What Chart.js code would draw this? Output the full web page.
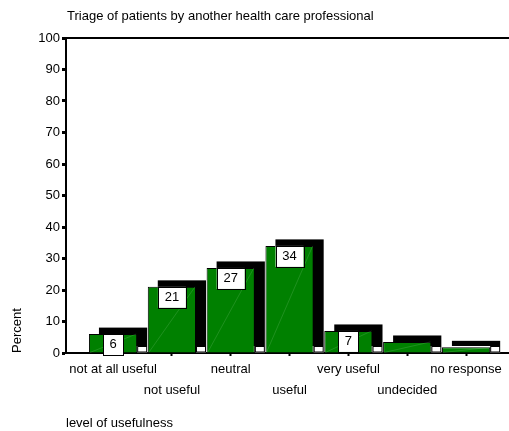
<!DOCTYPE html>
<html>
<head>
<meta charset="utf-8">
<script src="https://cdn.jsdelivr.net/npm/chart.js@4"></script>
<style>
  html, body { margin: 0; padding: 0; background: #fff; }
  #wrap { width: 509px; height: 431px; }
</style>
</head>
<body>
<div id="wrap"><canvas id="usefulness-chart" width="509" height="431"></canvas></div>
<script>
// level of usefulness categories and percentages
const categories = ['not at all useful', 'not useful', 'neutral', 'useful', 'very useful', 'undecided', 'no response'];
const percents = [6, 21, 27, 34, 7, 3.5, 1.8];
const valueLabels = ['6', '21', '27', '34', '7', null, null];
const yTicks = [0, 10, 20, 30, 40, 50, 60, 70, 80, 90, 100];

const FONT = 'Arial, "Liberation Sans", sans-serif';
const SHADOW_DX = 10;
const SHADOW_DY = 6.5;

// black drop block behind each bar
const shadowPlugin = {
    id: 'barShadow',
    beforeDatasetsDraw(chart) {
        const ctx = chart.ctx;
        const meta = chart.getDatasetMeta(0);
        ctx.save();
        meta.data.forEach(bar => {
            const p = bar.getProps(['x', 'y', 'base', 'width'], true);
            const left = p.x - p.width / 2;
            const right = p.x + p.width / 2;
            ctx.fillStyle = '#000';
            ctx.fillRect(left + SHADOW_DX, p.y - SHADOW_DY, p.width, p.base - p.y);
            // white gap under the block
            ctx.fillStyle = '#fff';
            ctx.fillRect(right, p.base - SHADOW_DY, SHADOW_DX, SHADOW_DY);
            ctx.strokeStyle = '#000';
            ctx.lineWidth = 1;
            ctx.strokeRect(right + 0.5, p.base - SHADOW_DY + 0.5, SHADOW_DX - 1, SHADOW_DY - 1);
        });
        ctx.restore();
    },
    afterDatasetsDraw(chart) {
        const ctx = chart.ctx;
        const meta = chart.getDatasetMeta(0);
        ctx.save();
        meta.data.forEach((bar, i) => {
            const p = bar.getProps(['x', 'y', 'base', 'width'], true);
            const left = p.x - p.width / 2;
            const right = p.x + p.width / 2;
            // faint diagonal across the bar face
            ctx.strokeStyle = 'rgba(140, 200, 140, 0.45)';
            ctx.lineWidth = 0.5;
            ctx.beginPath();
            ctx.moveTo(left + 1, p.base);
            ctx.lineTo(right - 1, p.y);
            ctx.stroke();

            const txt = valueLabels[i];
            if (txt === null) return;
            ctx.font = '13px ' + FONT;
            const w = txt.length > 1 ? 28 : 20;
            const h = 21;
            ctx.fillStyle = '#fff';
            ctx.fillRect(p.x - w / 2, p.y, w, h);
            ctx.strokeStyle = '#000';
            ctx.lineWidth = 1;
            ctx.strokeRect(Math.round(p.x - w / 2) + 0.5, Math.round(p.y) + 0.5, w, h);
            ctx.fillStyle = '#000';
            ctx.textAlign = 'center';
            ctx.textBaseline = 'middle';
            ctx.fillText(txt, p.x, p.y + h / 2);
        });
        ctx.restore();
    },
    afterDraw(chart) {
        const ctx = chart.ctx;
        const a = chart.chartArea;
        ctx.save();
        // frame line along the top
        ctx.strokeStyle = '#000';
        ctx.lineWidth = 2;
        ctx.beginPath();
        ctx.moveTo(a.left, a.top);
        ctx.lineTo(chart.width, a.top);
        ctx.stroke();
        // heading
        ctx.fillStyle = '#000';
        ctx.font = '13px ' + FONT;
        ctx.textAlign = 'left';
        ctx.textBaseline = 'middle';
        ctx.fillText('Triage of patients by another health care professional', 67, 16);
        ctx.restore();
    }
};

const ctx = document.getElementById('usefulness-chart').getContext('2d');
const chart = new Chart(ctx, {
    type: 'bar',
    data: {
        datasets: [{
            data: percents.map((v, i) => ({ x: i, y: v })),
            backgroundColor: '#008000',
            borderColor: '#000',
            borderWidth: 1,
            barPercentage: 0.82,
            categoryPercentage: 1
        }]
    },
    options: {
        responsive: false,
        animation: false,
        layout: { padding: { top: 38, left: 0, right: 0, bottom: 0 } },
        plugins: {
            legend: { display: false },
            tooltip: { enabled: false },
            title: { display: false }
        },
        scales: {
            x: {
                type: 'linear',
                min: -0.8,
                max: 6.73,
                offset: false,
                afterFit(scale) { scale.height = 78; },
                grid: { offset: false, drawOnChartArea: false, tickLength: 3, tickWidth: 2, tickColor: '#000' },
                border: { display: true, color: '#000', width: 2 },
                ticks: {
                    stepSize: 1,
                    includeBounds: false,
                    autoSkip: false,
                    maxRotation: 0,
                    color: '#000',
                    padding: 3,
                    font: { family: FONT, size: 13, lineHeight: 1.6 },
                    callback: v => {
                        const name = categories[v];
                        if (name === undefined) return '';
                        return v % 2 === 0 ? [name, ''] : ['', name];
                    }
                },
                title: {
                    display: true,
                    text: 'level of usefulness',
                    align: 'start',
                    color: '#000',
                    font: { family: FONT, size: 13 },
                    padding: { top: 0, bottom: 0 }
                }
            },
            y: {
                min: 0,
                max: 100,
                afterFit(scale) { scale.width = 66; },
                afterBuildTicks(scale) { scale.ticks = yTicks.map(v => ({ value: v })); },
                grid: { drawOnChartArea: false, tickLength: 4, tickWidth: 3, tickColor: '#000' },
                border: { display: true, color: '#000', width: 2 },
                ticks: {
                    color: '#000',
                    padding: 2,
                    font: { family: FONT, size: 13 }
                },
                title: {
                    display: true,
                    text: 'Percent',
                    align: 'start',
                    color: '#000',
                    font: { family: FONT, size: 13 },
                    padding: { top: 10, bottom: 0 }
                }
            }
        }
    },
    plugins: [shadowPlugin]
});
</script>
</body>
</html>
